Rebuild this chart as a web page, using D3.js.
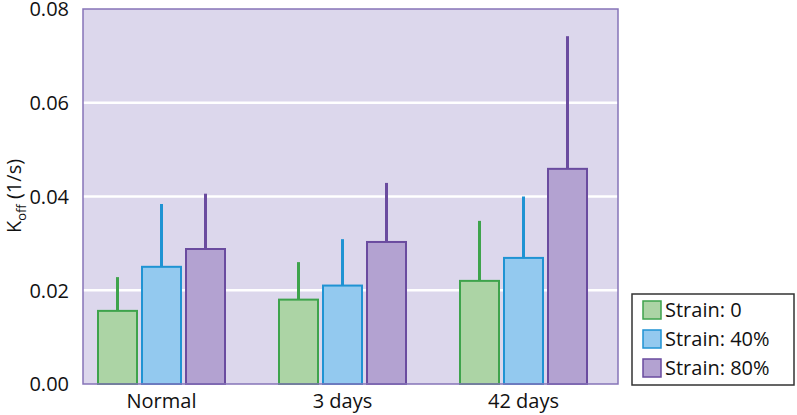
<!DOCTYPE html>
<html><head><meta charset="utf-8">
<script src="https://cdn.jsdelivr.net/npm/d3@7"></script>
<style>
html,body{margin:0;padding:0;background:#fff;}
svg{display:block;font-family:"Open Sans",sans-serif;}
</style></head>
<body><svg id="c" width="797" height="415"></svg>
<script>
const categories = ["Normal", "3 days", "42 days"];
const series = ["Strain: 0", "Strain: 40%", "Strain: 80%"];
const means = [
  [0.0156, 0.0250, 0.0288],
  [0.0180, 0.0210, 0.0303],
  [0.0220, 0.0269, 0.0459]
];
const errTops = [
  [0.0228, 0.0384, 0.0406],
  [0.0260, 0.0309, 0.0429],
  [0.0348, 0.0400, 0.0742]
];
const yTicks = [0, 0.02, 0.04, 0.06, 0.08];
const fills = ["#acd4a5", "#93c9ef", "#b3a2d1"];
const strokes = ["#3ea34c", "#1f93d3", "#6a4b9f"];

const svg = d3.select("#c");
const plot = {left: 83, right: 618, top: 9, bottom: 384};
const y = d3.scaleLinear().domain([0, 0.08]).range([plot.bottom, plot.top]);
const x0 = d3.scaleBand().domain(categories).range([71, 614]);
const x1 = d3.scaleBand().domain(series).range([0, 127]).paddingInner(5/44);

svg.append("rect").attr("x", plot.left).attr("y", plot.top)
  .attr("width", plot.right - plot.left).attr("height", plot.bottom - plot.top)
  .attr("fill", "#dcd7ec");

svg.append("g").selectAll("line").data(yTicks.filter(t => t > 0 && t < 0.08)).join("line")
  .attr("x1", plot.left).attr("x2", plot.right)
  .attr("y1", d => y(d)).attr("y2", d => y(d))
  .attr("stroke", "#fff").attr("stroke-width", 2.5);

const groups = svg.append("g").selectAll("g").data(categories).join("g")
  .attr("transform", d => `translate(${x0(d) + x0.bandwidth()/2 - 63.5},0)`);

groups.each(function(cat, ci) {
  const g = d3.select(this);
  series.forEach((s, si) => {
    const bx = x1(s), bw = x1.bandwidth();
    const cx = bx + bw / 2;
    g.append("line").attr("x1", cx).attr("x2", cx)
      .attr("y1", y(means[ci][si])).attr("y2", y(errTops[ci][si]))
      .attr("stroke", strokes[si]).attr("stroke-width", 3);
    g.append("rect").attr("x", bx).attr("y", y(means[ci][si]))
      .attr("width", bw).attr("height", y(0) - y(means[ci][si]))
      .attr("fill", fills[si]).attr("stroke", strokes[si]).attr("stroke-width", 2);
  });
});

svg.append("rect").attr("x", plot.left).attr("y", plot.top)
  .attr("width", plot.right - plot.left).attr("height", plot.bottom - plot.top)
  .attr("fill", "none").attr("stroke", "#8674b8").attr("stroke-width", 1.5);

// y axis
const yAxis = d3.axisLeft(y).tickValues(yTicks).tickFormat(d3.format(".2f")).tickSize(0).tickPadding(14);
const ya = svg.append("g").attr("transform", `translate(${plot.left},0)`).call(yAxis);
ya.select(".domain").remove();
ya.selectAll("text").attr("font-size", 20).attr("fill", "#111").attr("font-family", "Open Sans")
  .attr("dy", "0.34em");

// x axis
const xAxis = d3.axisBottom(x0).tickSize(0).tickPadding(10);
const xa = svg.append("g").attr("transform", `translate(0,${plot.bottom})`).call(xAxis);
xa.select(".domain").remove();
xa.selectAll("text").attr("font-size", 20).attr("fill", "#111").attr("font-family", "Open Sans");

// y label
const yl = svg.append("text").attr("transform", "translate(21,196) rotate(-90)")
  .attr("text-anchor", "middle").attr("font-size", 20).attr("fill", "#111");
yl.append("tspan").text("K");
yl.append("tspan").text("off").attr("font-size", 13).attr("dy", 5);
yl.append("tspan").text(" (1/s)").attr("dy", -5);

// legend
const lg = svg.append("g");
lg.append("rect").attr("x", 632).attr("y", 294).attr("width", 162).attr("height", 91)
  .attr("fill", "#fff").attr("stroke", "#333").attr("stroke-width", 1.5);
series.forEach((s, i) => {
  const ry = 310 + i * 29;
  lg.append("rect").attr("x", 643).attr("y", ry - 9).attr("width", 18).attr("height", 18)
    .attr("fill", fills[i]).attr("stroke", strokes[i]).attr("stroke-width", 1.5);
  lg.append("text").attr("x", 665).attr("y", ry).attr("dy", "0.36em")
    .attr("font-size", 20).attr("fill", "#111").text(s);
});
</script></body></html>
